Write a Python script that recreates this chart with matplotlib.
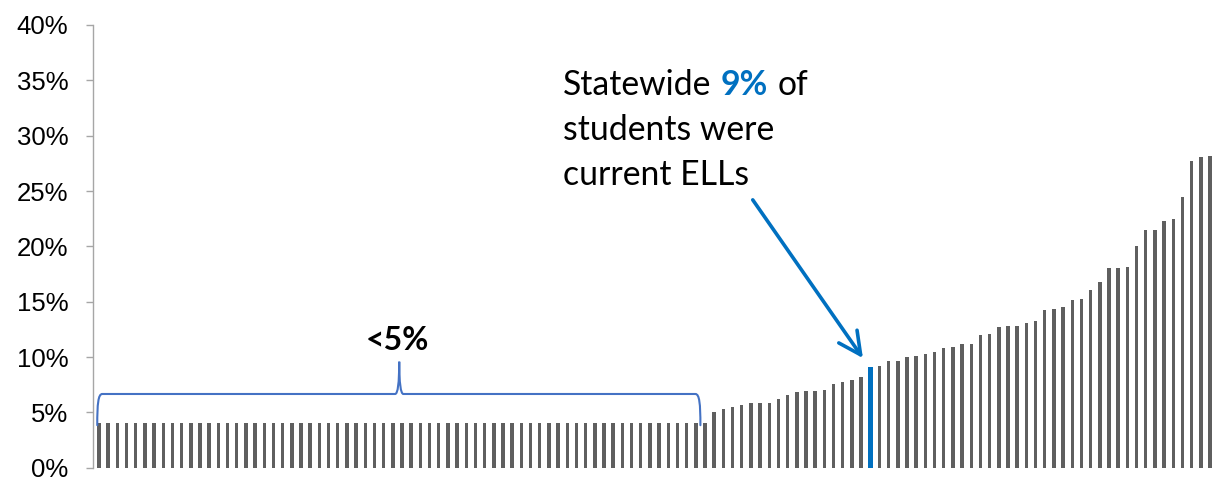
import matplotlib
matplotlib.use('Agg')
import matplotlib.pyplot as plt
from matplotlib.path import Path
from matplotlib.patches import PathPatch
from matplotlib.ticker import FuncFormatter

# share of students who are current ELLs, one bar per district, sorted (percent)
# districts under 5% are shown at 4%
low_pct = [
    4.0, 4.0, 4.0, 4.0, 4.0, 4.0, 4.0, 4.0, 4.0, 4.0, 4.0, 4.0, 4.0, 4.0, 4.0, 4.0, 4.0,
    4.0, 4.0, 4.0, 4.0, 4.0, 4.0, 4.0, 4.0, 4.0, 4.0, 4.0, 4.0, 4.0, 4.0, 4.0, 4.0, 4.0,
    4.0, 4.0, 4.0, 4.0, 4.0, 4.0, 4.0, 4.0, 4.0, 4.0, 4.0, 4.0, 4.0, 4.0, 4.0, 4.0, 4.0,
    4.0, 4.0, 4.0, 4.0, 4.0, 4.0, 4.0, 4.0, 4.0, 4.0, 4.0, 4.0, 4.0, 4.0, 4.0, 4.0,
]
high_pct = [
    5.03, 5.33, 5.5, 5.66, 5.88, 5.88, 5.88, 6.2, 6.55, 6.8, 6.97, 6.97, 7.06, 7.6,
    7.73, 7.88, 8.18, 9.1, 9.18, 9.6, 9.6, 10.0, 10.05, 10.27, 10.42, 10.8, 10.88,
    11.18, 11.18, 12.0, 12.06, 12.73, 12.79, 12.82, 13.09, 13.21, 14.24, 14.3, 14.5,
    15.15, 15.24, 16.09, 16.82, 18.0, 18.06, 18.09, 20.0, 21.52, 21.52, 22.27, 22.45,
    24.45, 27.7, 28.09, 28.18,
]
ell_pct = low_pct + high_pct
statewide_idx = 84  # the statewide bar (9%)
y_ticks = [0, 5, 10, 15, 20, 25, 30, 35, 40]

GRAY = '#5f5f5f'
BLUE = '#0070c0'
BRACE = '#4472c4'
W, H = 1217, 479


def fpos(x, y):
    # pixel position (from top-left) -> figure fraction
    return x / W, 1 - y / H


fig = plt.figure(figsize=(W / 100, H / 100), dpi=100)
ax = fig.add_axes([93.3 / W, 11.3 / H, (1214.5 - 93.3) / W, (467.7 - 25) / H])

xs = list(range(len(ell_pct)))
colors = [BLUE if i == statewide_idx else GRAY for i in xs]
widths = [0.6 if i == statewide_idx else 0.38 for i in xs]
ax.bar(xs, ell_pct, width=widths, color=colors, zorder=2)

ax.set_xlim(-0.62, len(ell_pct) - 1 + 0.49)
ax.set_ylim(0, 40)
ax.set_yticks(y_ticks)
ax.yaxis.set_major_formatter(FuncFormatter(lambda v, _: f'{v:.0f}%'))
ax.set_xticks([])
for s in ['top', 'right', 'bottom']:
    ax.spines[s].set_visible(False)
ax.spines['left'].set_color('#a6a6a6')
ax.spines['left'].set_linewidth(1.0)
ax.tick_params(axis='y', length=5, width=1, color='#a6a6a6', pad=13,
               labelsize=18.5, labelcolor='black')
for lbl in ax.get_yticklabels():
    lbl.set_family('Liberation Sans')

# brace over the <5% districts
x0, x1 = -0.19, 65.5
xm = 32.7
yb, yh, yt = 3.84, 6.66, 9.58
r, rp = 0.55, 0.45
verts = [
    (x0, yb), (x0, yh - 0.9), (x0 + 0.1, yh), (x0 + r, yh),
    (xm - rp, yh),
    (xm, yh), (xm, yt),
    (xm, yh), (xm + rp, yh),
    (x1 - r, yh),
    (x1 - 0.1, yh), (x1, yh - 0.9), (x1, yb),
]
codes = [
    Path.MOVETO, Path.CURVE4, Path.CURVE4, Path.CURVE4,
    Path.LINETO,
    Path.CURVE3, Path.CURVE3,
    Path.CURVE3, Path.CURVE3,
    Path.LINETO,
    Path.CURVE4, Path.CURVE4, Path.CURVE4,
]
ax.add_patch(PathPatch(Path(verts, codes), facecolor='none', edgecolor=BRACE,
                       lw=1.5, zorder=3, capstyle='round'))
ax.text(32.5, 10.6, '<5%', ha='center', va='baseline', fontsize=23,
        fontweight='bold', family='Lato', color='black')

# arrow to the statewide bar
ax.annotate('', xy=(83.2, 9.9), xytext=(71.2, 24.2),
            arrowprops=dict(arrowstyle='->,head_length=0.8,head_width=0.4',
                            mutation_scale=20, lw=2.6, color=BLUE,
                            shrinkA=0, shrinkB=0))

# callout text, first line mixes colours
fs = 24.3
t1 = fig.text(*fpos(562.7, 95), 'Statewide', fontsize=fs, family='Lato',
              va='baseline', color='black')
t2 = fig.text(0, 0, '9%', fontsize=fs, family='Lato', fontweight='bold', color=BLUE)
t3 = fig.text(0, 0, 'of', fontsize=fs, family='Lato', color='black')
fig.canvas.draw()
rend = fig.canvas.get_renderer()
bb1 = t1.get_window_extent(rend)
gap = 9.5
t2.set_position(((bb1.x1 + gap) / W, 1 - 95 / H))
t2.set_va('baseline')
fig.canvas.draw()
bb2 = t2.get_window_extent(rend)
t3.set_position(((bb2.x1 + gap) / W, 1 - 95 / H))
t3.set_va('baseline')
fig.text(*fpos(562.7, 140), 'students were', fontsize=fs, family='Lato',
         va='baseline', color='black')
fig.text(*fpos(562.7, 185), 'current ELLs', fontsize=fs, family='Lato',
         va='baseline', color='black')

fig.savefig('out.png', dpi=100)
